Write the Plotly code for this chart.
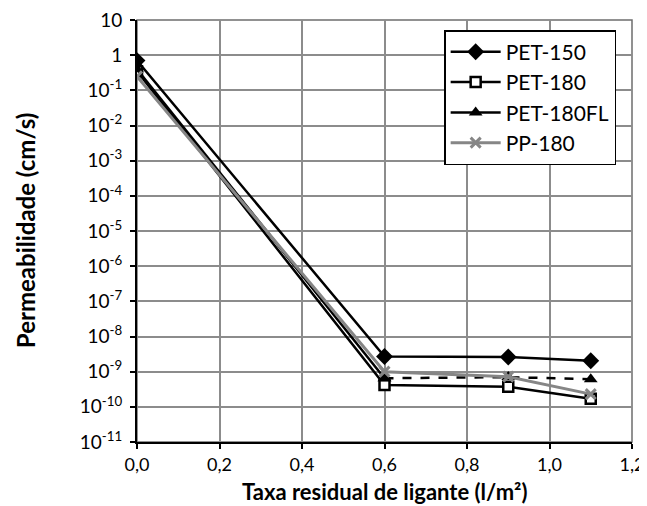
import plotly.graph_objects as go

x_vals = [0.0, 0.6, 0.9, 1.1]
pet150 = [0.7, 2.7e-9, 2.6e-9, 2.05e-9]
pet180 = [0.35, 4.2e-10, 3.7e-10, 1.7e-10]
pet180fl = [0.4, 6.5e-10, 7.0e-10, 6.1e-10]
pp180 = [0.25, 1.0e-9, 7.2e-10, 2.3e-10]

y_exps = list(range(-11, 2))
y_ticktext = []
for e in y_exps:
    if e == 1:
        y_ticktext.append("10")
    elif e == 0:
        y_ticktext.append("1")
    else:
        y_ticktext.append(f"10<sup>{e}</sup>")
y_tickvals = [10.0 ** e for e in y_exps]
x_ticks = [0.0, 0.2, 0.4, 0.6, 0.8, 1.0, 1.2]

x_title = "Taxa residual de ligante (l/m²)"
y_title = "Permeabilidade (cm/s)"

FONT = "Lato"

fig = go.Figure()
fig.add_trace(go.Scatter(
    x=x_vals, y=pet150, name="PET-150", mode="lines+markers",
    line=dict(color="black", width=2.5),
    marker=dict(symbol="diamond", size=13, color="black")))
fig.add_trace(go.Scatter(
    x=x_vals, y=pet180, name="PET-180", mode="lines+markers",
    line=dict(color="black", width=2.5),
    marker=dict(symbol="square", size=10, color="white",
                line=dict(color="black", width=2.5))))
# PET-180FL: solid first segment, dashed afterwards
fig.add_trace(go.Scatter(
    x=x_vals[:2], y=pet180fl[:2], name="PET-180FL", mode="lines+markers",
    line=dict(color="black", width=2.5),
    marker=dict(symbol="triangle-up", size=12, color="black"),
    legendgroup="fl"))
fig.add_trace(go.Scatter(
    x=x_vals[1:], y=pet180fl[1:], name="PET-180FL", mode="lines+markers",
    line=dict(color="black", width=2.5, dash="dash"),
    marker=dict(symbol="triangle-up", size=12, color="black"),
    legendgroup="fl", showlegend=False))
fig.add_trace(go.Scatter(
    x=x_vals, y=pp180, name="PP-180", mode="lines+markers",
    line=dict(color="#868686", width=3),
    marker=dict(symbol="x-thin", size=10, color="#868686",
                line=dict(color="#868686", width=3))))

fig.update_layout(
    width=639, height=498,
    margin=dict(l=129, r=15, t=12, b=64, autoexpand=False),
    paper_bgcolor="white", plot_bgcolor="white",
    separators=",.",
    font=dict(family=FONT, size=18, color="black"),
    showlegend=True,
    legend=dict(
        x=0.968, y=0.976, xanchor="right", yanchor="top",
        bgcolor="white", bordercolor="black", borderwidth=1.5,
        font=dict(family=FONT, size=21, color="black"),
        itemwidth=50,
        traceorder="normal",
    ),
)
fig.update_xaxes(
    range=[0, 1.2], tickvals=x_ticks, tickformat=".1f",
    showgrid=True, gridcolor="#8c8c8c", gridwidth=1.5,
    showline=True, linecolor="black", linewidth=2,
    ticks="outside", ticklen=5, tickwidth=1.5, tickcolor="black",
    ticklabeloverflow="allow", automargin=False,
    tickfont=dict(family=FONT, size=18, color="black"),
    zeroline=False,
)
fig.update_yaxes(
    type="log", range=[-11, 1], tickvals=y_tickvals, ticktext=y_ticktext,
    showgrid=True, gridcolor="#8c8c8c", gridwidth=1.5,
    showline=True, linecolor="black", linewidth=2,
    ticks="outside", ticklen=5, tickwidth=1.5, tickcolor="black",
    ticklabelstandoff=4, ticklabeloverflow="allow", automargin=False,
    tickfont=dict(family=FONT, size=19, color="black"),
    zeroline=False,
)
fig.add_annotation(text=f"<b>{x_title}</b>", xref="paper", yref="paper",
                   x=0.5, y=-0.118, xanchor="center", yanchor="middle",
                   showarrow=False, font=dict(family=FONT, size=22, color="black"))
fig.add_annotation(text=f"<b>{y_title}</b>", xref="paper", yref="paper",
                   x=-0.226, y=0.5, xanchor="center", yanchor="middle",
                   textangle=-90, showarrow=False,
                   font=dict(family=FONT, size=24, color="black"))
fig.add_shape(type="rect", xref="paper", yref="paper", x0=0, y0=0, x1=1, y1=1,
              line=dict(color="#6e6e6e", width=1.5), layer="below")

fig.write_html("out.html")
